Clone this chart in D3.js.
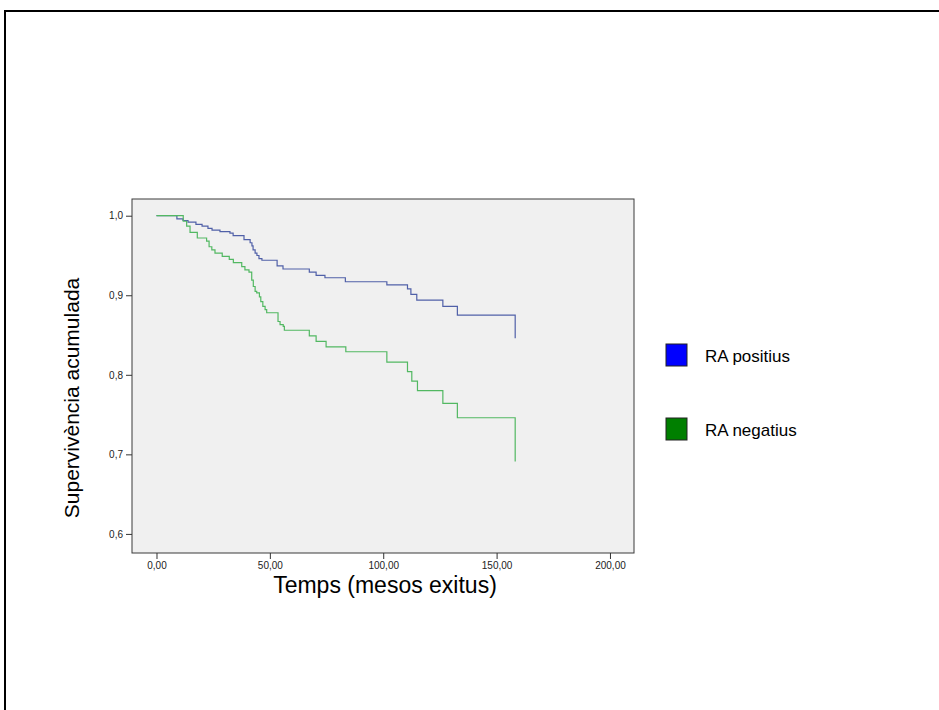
<!DOCTYPE html>
<html>
<head>
<meta charset="utf-8">
<script src="https://cdn.jsdelivr.net/npm/d3@7"></script>
<style>
  body { margin: 0; background: #fff; overflow: hidden; }
  svg { display: block; font-family: "Liberation Sans", Arial, sans-serif; }
</style>
</head>
<body>
<div id="chart"></div>
<script>
// Kaplan-Meier steps: event time (mesos) and cumulative survival
var seriesNames = ["RA positius", "RA negatius"];

var posTimes = [0, 9.0, 11.7, 13.9, 17.4, 20.1, 22.7, 24.5, 28.0, 32.4, 33.8, 38.6, 41.3, 42.1, 42.6, 43.5, 44.3, 45.2, 46.5,
  53.2, 55.8, 67.4, 70.4, 74.3, 83.3, 101.6, 110.7, 112.2, 114.8, 126.3, 132.7, 158.2];
var posSurv = [1.0, 0.996, 0.994, 0.992, 0.989, 0.987, 0.984, 0.982, 0.980, 0.978, 0.975, 0.970, 0.966, 0.962, 0.957, 0.953, 0.950, 0.946, 0.944,
  0.937, 0.933, 0.929, 0.925, 0.922, 0.917, 0.913, 0.908, 0.901, 0.894, 0.886, 0.875, 0.846];

var negTimes = [0, 11.8, 13.3, 14.8, 18.0, 22.1, 23.2, 24.4, 25.8, 29.0, 32.1, 33.9, 37.6, 39.0, 40.8, 42.0, 42.7, 43.5, 44.2, 45.4, 46.0, 46.9, 47.9, 48.6,
  53.6, 54.5, 55.9, 56.4, 67.4, 70.4, 74.8, 83.5, 101.6, 110.7, 112.6, 115.1, 126.3, 132.7, 158.2];
var negSurv = [1.0, 0.993, 0.987, 0.979, 0.972, 0.968, 0.961, 0.957, 0.953, 0.949, 0.945, 0.941, 0.936, 0.932, 0.929, 0.919, 0.911, 0.905, 0.903, 0.898, 0.892, 0.886, 0.882, 0.878,
  0.867, 0.863, 0.861, 0.856, 0.849, 0.842, 0.835, 0.829, 0.816, 0.804, 0.792, 0.780, 0.764, 0.746, 0.691];

var xTicks = [0, 50, 100, 150, 200];
var yTicks = [0.6, 0.7, 0.8, 0.9, 1.0];

var lineColors = ["#5060a8", "#52b862"];
var legendColors = ["#0000ff", "#007f00"];

var W = 939, H = 710;
var plot = {l: 132, t: 199, r: 634, b: 553};

var svg = d3.select("#chart").append("svg")
    .attr("width", W)
    .attr("height", H);

// outer frame: only its top and left edges fall inside the picture
svg.append("path")
    .attr("d", "M5," + H + "V11H" + W)
    .attr("fill", "none")
    .attr("stroke", "#000")
    .attr("stroke-width", 2);

var x = d3.scaleLinear().domain([-10.8, 210.6]).range([plot.l, plot.r]);
var y = d3.scaleLinear().domain([0.576, 1.021]).range([plot.b, plot.t]);

svg.append("rect")
    .attr("x", plot.l).attr("y", plot.t)
    .attr("width", plot.r - plot.l).attr("height", plot.b - plot.t)
    .attr("fill", "#f0f0f0")
    .attr("stroke", "#3a3a3a")
    .attr("stroke-width", 1);

var fmt = function(d){ return d3.format(".2f")(d).replace(".", ","); };

var xAxis = d3.axisBottom(x).tickValues(xTicks).tickSize(6).tickSizeOuter(0).tickPadding(3).tickFormat(fmt);
var yAxis = d3.axisLeft(y).tickValues(yTicks).tickSize(6).tickSizeOuter(0).tickPadding(3)
    .tickFormat(function(d){ return d3.format(".1f")(d).replace(".", ","); });

var gx = svg.append("g")
    .attr("transform", "translate(0," + plot.b + ")")
    .call(xAxis);
var gy = svg.append("g")
    .attr("transform", "translate(" + plot.l + ",0)")
    .call(yAxis);

[gx, gy].forEach(function(g){
    g.select(".domain").remove();
    g.selectAll(".tick line").attr("stroke", "#333");
    g.selectAll(".tick text")
        .attr("fill", "#222")
        .style("font-size", "10px")
        .style("font-family", "\"Liberation Sans\", Arial, sans-serif");
});

var line = d3.line()
    .x(function(d){ return x(d.t); })
    .y(function(d){ return y(d.s); })
    .curve(d3.curveStepAfter);

var series = [
    posTimes.map(function(t, i){ return {t: t, s: posSurv[i]}; }),
    negTimes.map(function(t, i){ return {t: t, s: negSurv[i]}; })
];

svg.append("g").selectAll("path")
    .data(series)
    .enter().append("path")
    .attr("d", line)
    .attr("fill", "none")
    .attr("stroke", function(d, i){ return lineColors[i]; })
    .attr("stroke-width", 1.2);

svg.append("text")
    .attr("x", 385)
    .attr("y", 593)
    .attr("text-anchor", "middle")
    .style("font-size", "23px")
    .attr("fill", "#000")
    .text("Temps (mesos exitus)");

svg.append("text")
    .attr("transform", "translate(79," + 398 + ") rotate(-90)")
    .attr("text-anchor", "middle")
    .style("font-size", "21px")
    .attr("fill", "#000")
    .text("Supervivència acumulada");

var legend = svg.append("g").selectAll("g")
    .data(seriesNames)
    .enter().append("g")
    .attr("transform", function(d, i){ return "translate(666," + (344 + i * 74) + ")"; });

legend.append("rect")
    .attr("width", 21).attr("height", 22)
    .attr("fill", function(d, i){ return legendColors[i]; })
    .attr("stroke", "#222")
    .attr("stroke-width", 1);

legend.append("text")
    .attr("x", 39).attr("y", 18)
    .style("font-size", "17px")
    .attr("fill", "#000")
    .text(function(d){ return d; });
</script>
</body>
</html>
